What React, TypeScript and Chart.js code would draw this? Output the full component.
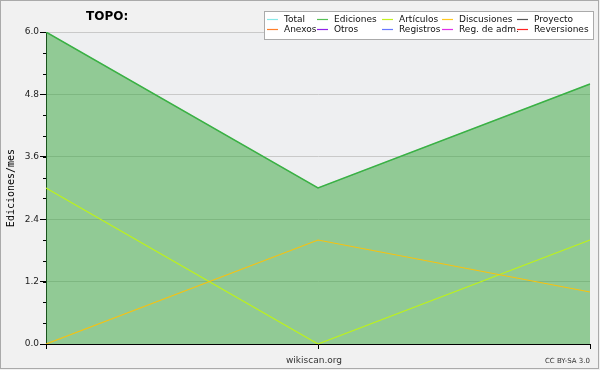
import React, { useEffect, useRef } from "react";
import { Chart, registerables } from "chart.js";

Chart.register(...registerables);

const categories = ["", "", ""];
const totalValues = [6, 3, 5];
const edicionesValues = [6, 3, 5];
const articulosValues = [3, 0, 2];
const discusionesValues = [0, 2, 1];

const legendItems: [string, string][] = [
  ["Total", "#88e8e8"],
  ["Ediciones", "#55c055"],
  ["Artículos", "#c4f020"],
  ["Discusiones", "#ffc820"],
  ["Proyecto", "#555555"],
  ["Anexos", "#ff7f2a"],
  ["Otros", "#9022e8"],
  ["Registros", "#6677ff"],
  ["Reg. de adm.", "#e030e8"],
  ["Reversiones", "#ff2222"],
];

const FONT = "'DejaVu Sans', sans-serif";

const decorPlugin = {
  id: "decor",
  beforeDraw(chart: any) {
    const ctx = chart.ctx;
    const ca = chart.chartArea;
    ctx.save();
    ctx.fillStyle = "#f1f1f1";
    ctx.fillRect(0, 0, chart.width, chart.height);
    ctx.fillStyle = "#eeeff1";
    ctx.fillRect(ca.left, ca.top, ca.right - ca.left, ca.bottom - ca.top);
    ctx.restore();
  },
  afterDraw(chart: any) {
    const ctx = chart.ctx;
    const ca = chart.chartArea;
    const y = chart.scales.y;
    ctx.save();
    ctx.strokeStyle = "#000";
    ctx.lineWidth = 1;
    for (let v = 0; v <= 6.0001; v += 0.4) {
      const py = Math.round(y.getPixelForValue(v)) + 0.5;
      ctx.beginPath();
      ctx.moveTo(ca.left - 3, py);
      ctx.lineTo(ca.left, py);
      ctx.stroke();
    }
    ctx.strokeStyle = "#aaaaaa";
    ctx.strokeRect(0.5, 0.5, chart.width - 2, chart.height - 2);
    ctx.fillStyle = "#000";
    ctx.font = `bold 12px ${FONT}`;
    ctx.textBaseline = "middle";
    ctx.textAlign = "left";
    ctx.fillText("TOPO:", 86, 17);
    ctx.save();
    ctx.translate(11, 188);
    ctx.rotate(-Math.PI / 2);
    ctx.textAlign = "center";
    ctx.font = `10px 'DejaVu Sans Mono', monospace`;
    ctx.fillText("Ediciones/mes", 0, 0);
    ctx.restore();
    ctx.fillStyle = "#333";
    ctx.font = `9px ${FONT}`;
    ctx.textAlign = "center";
    ctx.fillText("wikiscan.org", 314, 361);
    ctx.font = `7px ${FONT}`;
    ctx.textAlign = "right";
    ctx.fillText("CC BY-SA 3.0", 590, 361);
    const bx = 264.5, by = 11.5, bw = 329, bh = 28;
    ctx.fillStyle = "#ffffff";
    ctx.fillRect(bx, by, bw, bh);
    ctx.strokeStyle = "#aaaaaa";
    ctx.strokeRect(bx, by, bw, bh);
    const colX = [267, 317, 382, 442, 517];
    ctx.font = `9px ${FONT}`;
    ctx.textAlign = "left";
    legendItems.forEach(([label, color], i) => {
      const col = i % 5;
      const row = Math.floor(i / 5);
      const lx = colX[col];
      const ly = row === 0 ? 19.5 : 29.5;
      ctx.strokeStyle = color;
      ctx.lineWidth = 1.2;
      ctx.beginPath();
      ctx.moveTo(lx, ly);
      ctx.lineTo(lx + 11, ly);
      ctx.stroke();
      ctx.fillStyle = "#111";
      ctx.fillText(label, lx + 17, ly);
    });
    ctx.restore();
  },
};

export default function App() {
  const ref = useRef<HTMLCanvasElement>(null);
  useEffect(() => {
    document.body.style.margin = "0";
    const chart = new Chart(ref.current!, {
      type: "line",
      data: {
        labels: categories,
        datasets: [
          {
            label: "Total",
            data: totalValues,
            borderColor: "#88e8e8",
            borderWidth: 1,
            pointRadius: 0,
            fill: false,
            order: 4,
          },
          {
            label: "Ediciones",
            data: edicionesValues,
            borderColor: "#3cb043",
            backgroundColor: "rgba(52,165,58,0.5)",
            borderWidth: 1.5,
            pointRadius: 0,
            fill: "origin",
            order: 3,
          },
          {
            label: "Artículos",
            data: articulosValues,
            borderColor: "#bdf21a",
            borderWidth: 1.2,
            pointRadius: 0,
            fill: false,
            order: 1,
          },
          {
            label: "Discusiones",
            data: discusionesValues,
            borderColor: "#f7c210",
            borderWidth: 1.2,
            pointRadius: 0,
            fill: false,
            order: 0,
          },
        ],
      },
      options: {
        responsive: false,
        animation: false,
        layout: { padding: { left: 0, right: 10, top: 32, bottom: 0 } },
        plugins: {
          legend: { display: false },
          tooltip: { enabled: false },
          title: { display: false },
        },
        scales: {
          x: {
            offset: false,
            grid: {
              display: true,
              drawOnChartArea: false,
              tickLength: 5,
              tickColor: "#000",
            },
            border: { color: "#000", width: 1 },
            ticks: { display: false },
            afterFit: (s: any) => {
              s.height = 26;
            },
          },
          y: {
            min: 0,
            max: 6,
            ticks: {
              stepSize: 1.2,
              callback: (v: any) => Number(v).toFixed(1),
              color: "#222",
              font: { family: "'DejaVu Sans', sans-serif", size: 9 },
              padding: 1,
            },
            grid: {
              color: "#c9c9c9",
              tickColor: "#000",
              tickLength: 6,
            },
            border: { color: "#000", width: 1 },
            afterFit: (s: any) => {
              s.width = 46;
            },
          },
        },
      },
      plugins: [decorPlugin],
    });
    return () => chart.destroy();
  }, []);
  return <canvas ref={ref} width={600} height={370} style={{ display: "block" }} />;
}
